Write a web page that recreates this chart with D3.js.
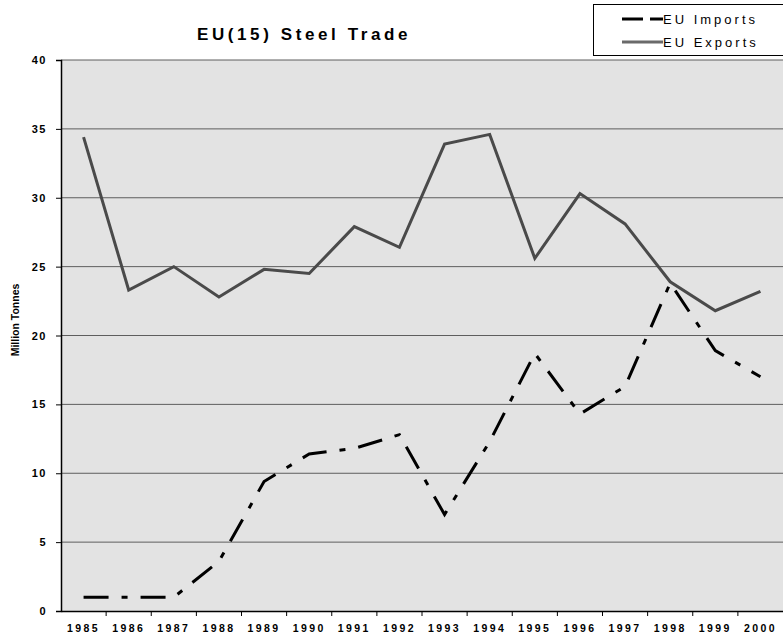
<!DOCTYPE html>
<html>
<head>
<meta charset="utf-8">
<script src="https://cdn.jsdelivr.net/npm/d3@7"></script>
<style>
  body { margin: 0; background: #fff; }
  text { font-family: "Liberation Sans", Arial, sans-serif; }
</style>
</head>
<body>
<script>
const years = ["1985","1986","1987","1988","1989","1990","1991","1992","1993","1994","1995","1996","1997","1998","1999","2000"];
const imports = [1.0, 1.0, 1.0, 3.6, 9.4, 11.4, 11.8, 12.8, 7.0, 12.3, 18.7, 14.3, 16.3, 23.8, 18.9, 17.0];
const exports = [34.4, 23.3, 25.0, 22.8, 24.8, 24.5, 27.9, 26.4, 33.9, 34.6, 25.6, 30.3, 28.1, 23.9, 21.8, 23.2];
const yTicks = [0, 5, 10, 15, 20, 25, 30, 35, 40];

const W = 783, H = 638;
const m = { left: 61, right: 0, top: 60, bottom: 27 };

const svg = d3.select("body").append("svg").attr("width", W).attr("height", H);

const x = d3.scaleBand().domain(years).range([m.left, W - m.right]);
const y = d3.scaleLinear().domain([0, 40]).range([H - m.bottom, m.top]);

// plot background
svg.append("rect")
  .attr("x", m.left).attr("y", m.top)
  .attr("width", W - m.right - m.left).attr("height", H - m.bottom - m.top)
  .attr("fill", "#e3e3e3");

// gridlines
svg.append("g").selectAll("line").data(yTicks.filter(d => d > 0)).join("line")
  .attr("x1", m.left).attr("x2", W - m.right)
  .attr("y1", d => y(d)).attr("y2", d => y(d))
  .attr("stroke", "#5e5e5e").attr("stroke-width", 1);

// y axis
const yAxis = svg.append("g").attr("transform", `translate(${m.left},0)`)
  .call(d3.axisLeft(y).tickValues(yTicks).tickSize(5).tickPadding(9).tickFormat(d3.format("d")));
yAxis.select(".domain").attr("stroke", "#000").attr("stroke-width", 1.5);
yAxis.selectAll("text").attr("font-size", 11).attr("font-weight", "bold")
  .attr("letter-spacing", 1.5).attr("fill", "#000");

// x axis
const xAxis = svg.append("g").attr("transform", `translate(0,${H - m.bottom})`)
  .call(d3.axisBottom(x).tickSize(0).tickPadding(14));
xAxis.select(".domain").attr("stroke", "#000").attr("stroke-width", 1.5);
xAxis.selectAll("text").attr("font-size", 10.5).attr("font-weight", "bold")
  .attr("letter-spacing", 2.4).attr("fill", "#000");
// tick marks at band boundaries
xAxis.append("g").selectAll("line").data(years.slice(1)).join("line")
  .attr("x1", d => x(d)).attr("x2", d => x(d))
  .attr("y1", 0).attr("y2", 5)
  .attr("stroke", "#000");

// lines
const line = d3.line().x((d, i) => x(years[i]) + x.bandwidth() / 2).y(d => y(d));

svg.append("path").datum(exports)
  .attr("d", line).attr("fill", "none")
  .attr("stroke", "#4a4a4a").attr("stroke-width", 3);

svg.append("path").datum(imports)
  .attr("d", line).attr("fill", "none")
  .attr("stroke", "#000").attr("stroke-width", 3)
  .attr("stroke-dasharray", "25,13,6,13");

// title
svg.append("text")
  .attr("x", 304).attr("y", 40)
  .attr("text-anchor", "middle")
  .attr("font-size", 17).attr("font-weight", "bold").attr("letter-spacing", 3.6)
  .text("EU(15) Steel Trade");

// y title
svg.append("text")
  .attr("transform", "translate(19,320) rotate(-90)")
  .attr("text-anchor", "middle")
  .attr("font-size", 10.5).attr("font-weight", "bold")
  .text("Million Tonnes");

// legend
const lg = svg.append("g");
lg.append("rect")
  .attr("x", 593.5).attr("y", 4.5).attr("width", 200).attr("height", 51)
  .attr("fill", "#fff").attr("stroke", "#000");
const legendItems = [
  { name: "EU Imports", color: "#000", dash: "21,7,10,0" },
  { name: "EU Exports", color: "#6a6a6a", dash: null }
];
legendItems.forEach((d, i) => {
  const ly = 19 + i * 23;
  lg.append("line")
    .attr("x1", 622).attr("x2", 663).attr("y1", ly).attr("y2", ly)
    .attr("stroke", d.color).attr("stroke-width", 3)
    .attr("stroke-dasharray", d.dash);
  lg.append("text")
    .attr("x", 663).attr("y", ly + 4.5)
    .attr("font-size", 13).attr("letter-spacing", 3)
    .text(d.name);
});
</script>
</body>
</html>
